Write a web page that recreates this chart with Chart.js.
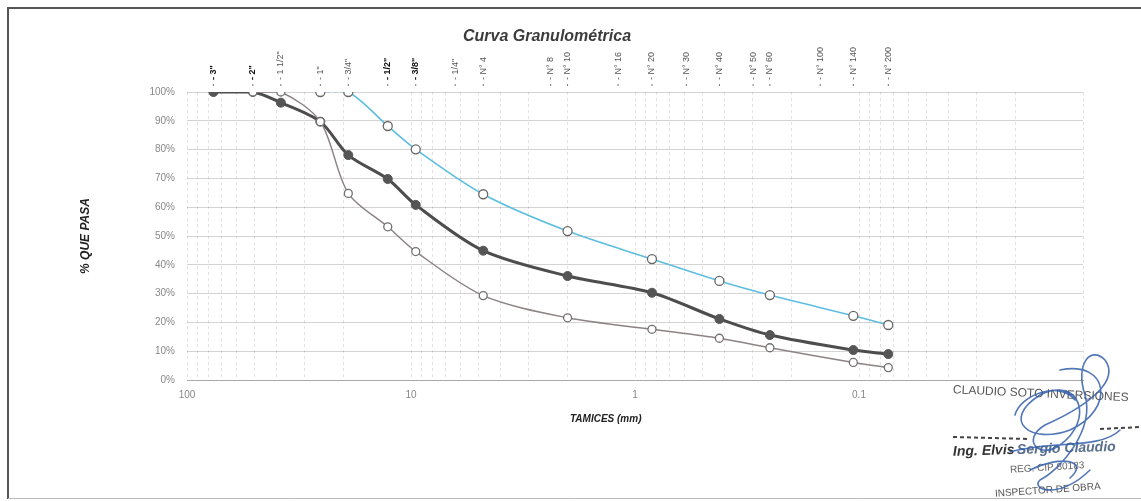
<!DOCTYPE html>
<html><head><meta charset="utf-8">
<script src="https://cdn.jsdelivr.net/npm/chart.js@4.4.1/dist/chart.umd.min.js"></script>
<style>html,body{margin:0;padding:0;background:#fff;overflow:hidden}#wrap{width:1141px;height:501px;position:relative}</style>
</head><body><div id="wrap"><canvas id="c" width="1141" height="501"></canvas></div>
<script>
// ---- data ----
const sieveLabels = ['3"','2"','1 1/2"','1"','3/4"','1/2"','3/8"','1/4"','N° 4','N° 8','N° 10','N° 16','N° 20','N° 30','N° 40','N° 50','N° 60','N° 100','N° 140','N° 200'];
const sieveSizes  = [76.2,50.8,38.1,25.4,19.05,12.7,9.525,6.35,4.76,2.38,2.0,1.19,0.84,0.59,0.42,0.297,0.25,0.149,0.106,0.074];
const passDark = [100,100,96.3,89.7,78.1,69.8,60.8,null,44.9,null,36.1,null,30.3,null,21.2,null,15.6,null,10.4,9.0];
const passGray = [null,100,100,89.7,64.8,53.2,44.6,null,29.3,null,21.6,null,17.6,null,14.5,null,11.2,null,6.1,4.3];
const passCyan = [null,null,null,100,100,88.2,80.1,null,64.5,null,51.7,null,42.0,null,34.4,null,29.5,null,22.3,19.1];
const boldSieves = ['3"','2"','1/2"','3/8"'];
const xTickLabels = [100,10,1,0.1];
const yTickValues = [0,10,20,30,40,50,60,70,80,90,100];
const chartTitle = 'Curva Granulométrica';
const yTitle = '% QUE PASA';
const xTitle = 'TAMICES (mm)';

function toPoints(arr){ const out=[]; arr.forEach((v,i)=>{ if(v!==null) out.push({x:sieveSizes[i], y:v}); }); return out; }

// minor log grid positions (1..9 x decade)
const xGrid = [];
for (let e=-2; e<=1; e++) for (let k=1;k<=9;k++) xGrid.push(Number((k*Math.pow(10,e)).toPrecision(6)));
xGrid.push(100);

const FONT = '"Liberation Sans", Arial, sans-serif';

const textPlugin = {
  id:'texts',
  afterDraw(chart){
    const ctx = chart.ctx, xs = chart.scales.x;
    ctx.save();
    // frame
    ctx.strokeStyle='#555'; ctx.lineWidth=2;
    ctx.beginPath(); ctx.moveTo(8,499); ctx.lineTo(8,8); ctx.lineTo(1141,8); ctx.stroke();
    ctx.strokeStyle='#bbb'; ctx.lineWidth=1;
    ctx.beginPath(); ctx.moveTo(8,498.5); ctx.lineTo(1141,498.5); ctx.stroke();
    // title
    ctx.fillStyle='#3c3c3c';
    ctx.font='bold italic 16px '+FONT; ctx.textAlign='center'; ctx.textBaseline='middle';
    ctx.fillText(chartTitle, 547, 37);
    // y title
    ctx.save(); ctx.translate(86, 236); ctx.rotate(-Math.PI/2);
    ctx.font='bold italic 12px '+FONT; ctx.fillStyle='#222';
    ctx.fillText(yTitle, 0, 0); ctx.restore();
    // x title
    ctx.font='bold italic 10px '+FONT; ctx.fillStyle='#222'; ctx.textAlign='left';
    ctx.fillText(xTitle, 570, 419);
    // sieve labels
    sieveLabels.forEach((lab,i)=>{
      const px = xs.getPixelForValue(sieveSizes[i]);
      const bold = boldSieves.includes(lab);
      ctx.save(); ctx.translate(px, 80); ctx.rotate(-Math.PI/2);
      ctx.font=(bold?'bold ':'')+'9px '+FONT; ctx.fillStyle= bold ? '#111' : '#555';
      ctx.textAlign='left'; ctx.textBaseline='middle';
      ctx.fillText('- '+lab, 0, 0);
      ctx.restore();
      ctx.fillStyle='#777'; ctx.fillRect(px-0.5, 84, 1, 2);
    });
    // stamp
    ctx.save(); ctx.translate(953, 390); ctx.rotate(0.045);
    ctx.font='12px '+FONT; ctx.fillStyle='#555'; ctx.textAlign='left';
    ctx.fillText('CLAUDIO SOTO INVERSIONES', 0, 0); ctx.restore();
    ctx.strokeStyle='#444'; ctx.lineWidth=2; ctx.setLineDash([4,3]);
    ctx.beginPath(); ctx.moveTo(953,437); ctx.lineTo(1030,439); ctx.stroke();
    ctx.beginPath(); ctx.moveTo(1100,429); ctx.lineTo(1141,427); ctx.stroke();
    ctx.setLineDash([]);
    ctx.save(); ctx.translate(953, 452); ctx.rotate(-0.03);
    ctx.font='bold italic 14px '+FONT; ctx.fillStyle='#333'; ctx.textAlign='left';
    ctx.fillText('Ing. Elvis', 0, 0);
    ctx.fillStyle='#5a6f8e'; ctx.fillText('Sergio Claudio', 64, 0);
    ctx.restore();
    ctx.save(); ctx.translate(1010, 470); ctx.rotate(-0.06);
    ctx.font='10px '+FONT; ctx.fillStyle='#666';
    ctx.fillText('REG. CIP 80183', 0, 0); ctx.restore();
    ctx.save(); ctx.translate(995, 494); ctx.rotate(-0.07);
    ctx.font='10px '+FONT; ctx.fillStyle='#555';
    ctx.fillText('INSPECTOR DE OBRA', 0, 0); ctx.restore();
    // signature strokes
    ctx.strokeStyle='rgba(50,95,170,0.85)'; ctx.lineWidth=1.6; ctx.lineCap='round';
    const sig = [
      [1060,370, 1110,360, 1115,410, 1070,430],
      [1070,430, 1030,445, 1000,420, 1040,395],
      [1040,395, 1080,375, 1095,420, 1060,445],
      [1060,445, 1040,460, 1020,440, 1045,425],
      [1045,425, 1090,405, 1120,380, 1105,360],
      [1105,360, 1090,345, 1075,365, 1085,395],
      [1085,395, 1095,430, 1060,470, 1040,480],
      [1040,480, 1030,490, 1060,500, 1090,470],
      [1010,452, 1050,440, 1100,450, 1120,430],
      [1015,415, 1020,395, 1060,380, 1075,400],
      [1030,470, 1060,455, 1090,460, 1070,478]
    ];
    ctx.beginPath();
    sig.forEach(s=>{ ctx.moveTo(s[0],s[1]); ctx.bezierCurveTo(s[2],s[3],s[4],s[5],s[6],s[7]); });
    ctx.stroke();
    ctx.restore();
  }
};

const chart = new Chart(document.getElementById('c'), {
  type:'line',
  data:{ datasets:[
    { label:'Cyan', data: toPoints(passCyan), borderColor:'#5cbde0', borderWidth:1.6, tension:0.3,
      pointRadius:4.5, pointBackgroundColor:'#fff', pointBorderColor:'#666', pointBorderWidth:1.3,
      segment:{ borderDash: c => c.p0DataIndex===0 ? [2,5] : undefined,
                borderColor: c => c.p0DataIndex===0 ? 'rgba(92,189,224,0.6)' : undefined } },
    { label:'Gray', data: toPoints(passGray), borderColor:'#8c8383', borderWidth:1.5, tension:0.3,
      pointRadius:4, pointBackgroundColor:'#fff', pointBorderColor:'#707070', pointBorderWidth:1.3 },
    { label:'Dark', data: toPoints(passDark), borderColor:'#4d4d4d', borderWidth:3, tension:0.3,
      pointRadius:4.5, pointBackgroundColor:'#555', pointBorderColor:'#555', pointBorderWidth:1 }
  ]},
  options:{
    responsive:false, animation:false, devicePixelRatio:1,
    layout:{ padding:{ top:92, right:58, bottom:0, left:0 } },
    plugins:{ legend:{display:false}, tooltip:{enabled:false}, title:{display:false} },
    scales:{
      x:{ type:'logarithmic', reverse:true, min:0.01, max:100,
        afterBuildTicks: s => { s.ticks = xGrid.map(v=>({value:v})); },
        afterFit: s => { s.height = 121; },
        ticks:{ autoSkip:false, maxRotation:0, minRotation:0, padding:9, color:'#888',
          font:{ family:FONT, size:10 },
          callback: v => { const m = xTickLabels.find(t => Math.abs(t-v)/t < 1e-6); return m!==undefined ? String(m) : ''; } },
        grid:{ color:'rgba(0,0,0,0.11)', drawTicks:false, lineWidth:1 },
        border:{ display:true, color:'#aaa', dash:[3,3] }
      },
      y:{ min:0, max:100,
        afterBuildTicks: s => { s.ticks = yTickValues.map(v=>({value:v})); },
        afterFit: s => { s.width = 187; },
        ticks:{ padding:12, color:'#888', font:{ family:FONT, size:10 }, callback: v => v+'%' },
        grid:{ color:'rgba(0,0,0,0.17)', drawTicks:false },
        border:{ display:false }
      }
    }
  },
  plugins:[textPlugin]
});
</script></body></html>
